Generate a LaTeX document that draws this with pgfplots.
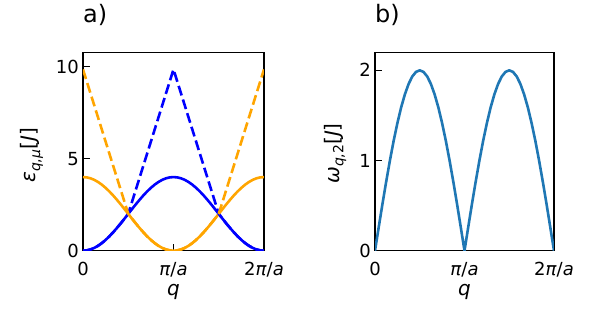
\documentclass[border=0pt]{standalone}
\usepackage{fontspec}
\setmainfont{DejaVu Sans}
\usepackage{pgfplots}
\pgfplotsset{compat=1.18}
\definecolor{mplblue}{RGB}{0,0,255}
\definecolor{mplorange}{RGB}{255,165,0}
\definecolor{tabblue}{RGB}{31,119,180}
\newcommand{\sub}[1]{\raisebox{-0.22em}{\fontsize{14}{14}\selectfont #1}}
\newcommand{\labfont}{\fontsize{20}{20}\selectfont}
\pgfplotsset{
  myaxis/.style={
    scale only axis, width=181pt, height=198.4pt,
    xmin=0, xmax=48,
    xtick={0,24,48},
    xticklabels={0,\textit{π}/\textit{a},2\textit{π}/\textit{a}},
    tick pos=left, tick align=inside,
    major tick length=7pt,
    every tick/.style={black, line width=1.4pt},
    axis line style={line width=1.5pt},
    tick label style={font=\fontsize{18}{18}\selectfont},
    xticklabel style={anchor=north, inner sep=0pt, text height=13pt, text depth=0pt, yshift=-12pt},
    yticklabel style={anchor=east, inner sep=0pt, text height=13pt, text depth=0pt, xshift=-4pt},
    every axis x label/.style={at={(axis description cs:0.5,-0.228)}, anchor=base, inner sep=0pt, font=\labfont},
    title style={font=\fontsize{24}{24}\selectfont, at={(axis description cs:0,1)}, anchor=base west, inner sep=0pt, yshift=24pt},
    every axis plot/.append style={line width=2.6pt, line join=round},
    clip=true,
  }
}
\begin{document}
\begin{tikzpicture}
\useasboundingbox (0,0) rectangle (598pt,311pt);
\begin{axis}[myaxis, at={(83pt,60.3pt)}, anchor=south west,
  ymin=0, ymax=10.78, ytick={0,5,10}, yticklabels={0,5,10},
  xlabel={\textit{q}},
  ylabel={\textit{ε}\sub{\textit{q},\textit{μ}}[\textit{J}]},
  every axis y label/.style={at={(axis description cs:-0.261,0.48)}, rotate=90, anchor=base, inner sep=0pt, font=\labfont},
  title={a)}]
\addplot[mplblue, no markers] coordinates {
(0,0) (1,0.017) (2,0.068) (3,0.152) (4,0.268) (5,0.413) (6,0.586) (7,0.782) (8,1.0) (9,1.235) (10,1.482) (11,1.739) (12,2.0)
(13,2.261) (14,2.518) (15,2.765) (16,3.0) (17,3.218) (18,3.414) (19,3.587) (20,3.732) (21,3.848) (22,3.932) (23,3.983) (24,4.0)
(25,3.983) (26,3.932) (27,3.848) (28,3.732) (29,3.587) (30,3.414) (31,3.218) (32,3.0) (33,2.765) (34,2.518) (35,2.261) (36,2.0)
(37,1.739) (38,1.482) (39,1.235) (40,1.0) (41,0.782) (42,0.586) (43,0.413) (44,0.268) (45,0.152) (46,0.068) (47,0.017) (48,0)
};
\addplot[mplorange, no markers] coordinates {
(0,4.0) (1,3.983) (2,3.932) (3,3.848) (4,3.732) (5,3.587) (6,3.414) (7,3.218) (8,3.0) (9,2.765) (10,2.518) (11,2.261) (12,2.0)
(13,1.739) (14,1.482) (15,1.235) (16,1.0) (17,0.782) (18,0.586) (19,0.413) (20,0.268) (21,0.152) (22,0.068) (23,0.017) (24,0)
(25,0.017) (26,0.068) (27,0.152) (28,0.268) (29,0.413) (30,0.586) (31,0.782) (32,1.0) (33,1.235) (34,1.482) (35,1.739) (36,2.0)
(37,2.261) (38,2.518) (39,2.765) (40,3.0) (41,3.218) (42,3.414) (43,3.587) (44,3.732) (45,3.848) (46,3.932) (47,3.983) (48,4.0)
};
\addplot[mplblue, no markers, dash pattern=on 10pt off 4.3pt] coordinates {
(0,0) (1,0.017) (2,0.068) (3,0.152) (4,0.268) (5,0.413) (6,0.586) (7,0.782) (8,1.0) (9,1.235) (10,1.482) (11,1.739) (12,2.0)
(18,5.925) (24,9.85) (30,5.925) (36,2.0)
(37,1.739) (38,1.482) (39,1.235) (40,1.0) (41,0.782) (42,0.586) (43,0.413) (44,0.268) (45,0.152) (46,0.068) (47,0.017) (48,0)
};
\addplot[mplorange, no markers, dash pattern=on 10pt off 4.3pt] coordinates {
(0,9.85) (6,5.925) (12,2.0)
(13,1.739) (14,1.482) (15,1.235) (16,1.0) (17,0.782) (18,0.586) (19,0.413) (20,0.268) (21,0.152) (22,0.068) (23,0.017) (24,0)
(25,0.017) (26,0.068) (27,0.152) (28,0.268) (29,0.413) (30,0.586) (31,0.782) (32,1.0) (33,1.235) (34,1.482) (35,1.739) (36,2.0)
(42,5.925) (48,9.85)
};
\end{axis}
\begin{axis}[myaxis, at={(375pt,60.3pt)}, anchor=south west, width=179pt,
  ymin=0, ymax=2.2, ytick={0,1,2}, yticklabels={0,1,2},
  xlabel={\textit{q}},
  ylabel={\textit{ω}\sub{\textit{q},2}[\textit{J}]},
  every axis y label/.style={at={(axis description cs:-0.201,0.49)}, rotate=90, anchor=base, inner sep=0pt, font=\labfont},
  title={b)}]
\addplot[tabblue, no markers] coordinates {
(0,0) (1,0.261) (2,0.518) (3,0.765) (4,1.0) (5,1.218) (6,1.414) (7,1.587) (8,1.732) (9,1.848) (10,1.932) (11,1.983) (12,2.0)
(13,1.983) (14,1.932) (15,1.848) (16,1.732) (17,1.587) (18,1.414) (19,1.218) (20,1.0) (21,0.765) (22,0.518) (23,0.261) (24,0)
(25,0.261) (26,0.518) (27,0.765) (28,1.0) (29,1.218) (30,1.414) (31,1.587) (32,1.732) (33,1.848) (34,1.932) (35,1.983) (36,2.0)
(37,1.983) (38,1.932) (39,1.848) (40,1.732) (41,1.587) (42,1.414) (43,1.218) (44,1.0) (45,0.765) (46,0.518) (47,0.261) (48,0)
};
\end{axis}
\end{tikzpicture}
\end{document}
